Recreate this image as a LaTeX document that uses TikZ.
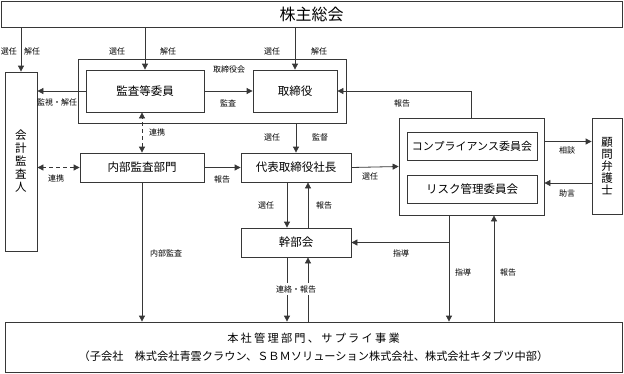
\documentclass[tikz,border=0pt]{standalone}
\usepackage{fontspec}
\newfontfamily\jpfont{Noto Sans CJK JP}
\newfontfamily\jpwide[LetterSpace=20]{Noto Sans CJK JP}
\usepackage{tikz}
\usetikzlibrary{arrows.meta,calc,positioning}
\definecolor{LineGray}{RGB}{55,55,55}

\begin{document}
\begin{tikzpicture}[x=1pt,y=-1pt,
  box/.style={draw=LineGray,line width=0.8pt,inner sep=0pt,font=\jpfont\fontsize{11.5}{13}\selectfont},
  tag/.style={inner sep=1pt,font=\jpfont\fontsize{8}{9}\selectfont},
  arr/.style={draw=LineGray,line width=0.8pt,-{Triangle[length=6pt,width=6pt]}},
  darr/.style={draw=LineGray,line width=0.8pt,dash pattern=on 4pt off 3pt,{Triangle[length=6pt,width=6pt]}-{Triangle[length=6pt,width=6pt]}}]
\useasboundingbox (0,0) rectangle (624,373);
\node[box,minimum width=621pt,minimum height=26pt,font=\jpfont\fontsize{16}{18}\selectfont] (meeting) at (311.5,14){株主総会};
\node[box,minimum width=32pt,minimum height=179pt,align=center] (auditor) at (21,161.5){会\\計\\監\\査\\人};
\node[box,minimum width=268pt,minimum height=64pt] (board) at (212,91){};
\node[box,minimum width=118pt,minimum height=42pt] (kansa) at (145,91){監査等委員};
\node[box,minimum width=84pt,minimum height=42pt] (director) at (295,91){取締役};
\node[box,minimum width=124pt,minimum height=29pt] (naibu) at (142,167.5){内部監査部門};
\node[box,minimum width=110pt,minimum height=29pt] (ceo) at (296,167.5){代表取締役社長};
\node[box,minimum width=145pt,minimum height=97pt] (cmte) at (471.5,166.5){};
\node[box,minimum width=130pt,minimum height=28pt,font=\jpfont\fontsize{11}{13}\selectfont] (comp) at (472,146){コンプライアンス委員会};
\node[box,minimum width=130pt,minimum height=28pt] (risk) at (472,189){リスク管理委員会};
\node[box,minimum width=30pt,minimum height=96pt,align=center,font=\jpfont\fontsize{11.5}{12}\selectfont] (lawyer) at (607,166){顧\\問\\弁\\護\\士};
\node[box,minimum width=110pt,minimum height=29pt] (kanbu) at (296,242.5){幹部会};
\node[box,minimum width=617pt,minimum height=50pt,align=center,font=\jpfont\fontsize{11.2}{18}\selectfont] (hq) at (313.5,347){{\jpwide 本社管理部門、サプライ事業}\\（子会社　株式会社青雲クラウン、ＳＢＭソリューション株式会社、株式会社キタブツ中部）};

\coordinate (kdL) at ([xshift=-9pt]kanbu.south);
\coordinate (kdR) at ([xshift=12pt]kanbu.south);
\coordinate (cdL) at ([xshift=-22.5pt]cmte.south);
\coordinate (cdR) at ([xshift=22.5pt]cmte.south);
\coordinate (ask) at ([yshift=25pt]cmte.east);
\coordinate (advice) at ([yshift=-17pt]lawyer.west);
\coordinate (branch) at (cdL |- kanbu.east);

\draw[arr] (meeting.south -| auditor) -- (auditor.north);
\draw[arr] (kansa.north |- meeting.south) -- (kansa.north);
\draw[arr] (director.north |- meeting.south) -- (director.north);
\draw[arr] (kansa.west) -- (kansa.west -| auditor.east);
\draw[arr] (kansa.east) -- (director.west);
\draw[darr] (naibu.north) -- (naibu.north |- kansa.south);
\draw[darr] (naibu.west) -- (naibu.west -| auditor.east);
\draw[arr] (naibu.east) -- (ceo.west);
\draw[arr] (board.south -| ceo) -- (ceo.north);
\draw[arr] (ceo.east) -- (cmte.west);
\draw[arr] (cmte.north) |- (director.east);
\draw[arr] (ask) -- (ask -| lawyer.west);
\draw[arr] (advice) -- (advice -| cmte.east);
\draw[arr] ([xshift=-9pt]ceo.south) -- ([xshift=-9pt]kanbu.north);
\draw[arr] ([xshift=12pt]kanbu.north) -- ([xshift=12pt]ceo.south);
\draw[arr] (kdL) -- (kdL |- hq.north);
\draw[arr] (kdR |- hq.north) -- (kdR);
\draw[arr] (naibu.south) -- (naibu.south |- hq.north);
\draw[arr] (cdL) -- (cdL |- hq.north);
\draw[arr] (branch) -- (kanbu.east);
\draw[arr] (cdR |- hq.north) -- (cdR);

\node[tag] (t1) at (9,51){選任};
\node[tag] (t2) at (32,51){解任};
\node[tag] (t3) at (117,51){選任};
\node[tag] (t4) at (168,51){解任};
\node[tag] (t5) at (272,51){選任};
\node[tag] (t6) at (319,51){解任};
\node[tag] (t7) at (229,69){取締役会};
\node[tag] (t8) at (57,102){監視・解任};
\node[tag] (t9) at (228,103){監査};
\node[tag] (t10) at (402,103){報告};
\node[tag] (t11) at (157,132){連携};
\node[tag] (t12) at (272,137){選任};
\node[tag] (t13) at (320,137){監督};
\node[tag] (t14) at (56,178){連携};
\node[tag] (t15) at (222,179){報告};
\node[tag] (t16) at (370,176){選任};
\node[tag] (t17) at (567,150){相談};
\node[tag] (t18) at (567,193){助言};
\node[tag] (t19) at (266,205){選任};
\node[tag] (t20) at (324,205){報告};
\node[tag] (t21) at (166,253){内部監査};
\node[tag] (t22) at (401,253){指導};
\node[tag] (t23) at (463,272){指導};
\node[tag] (t24) at (508,272){報告};
\node[tag,fill=white,inner sep=2.5pt] (t25) at (296,289){連絡・報告};
\end{tikzpicture}
\end{document}
